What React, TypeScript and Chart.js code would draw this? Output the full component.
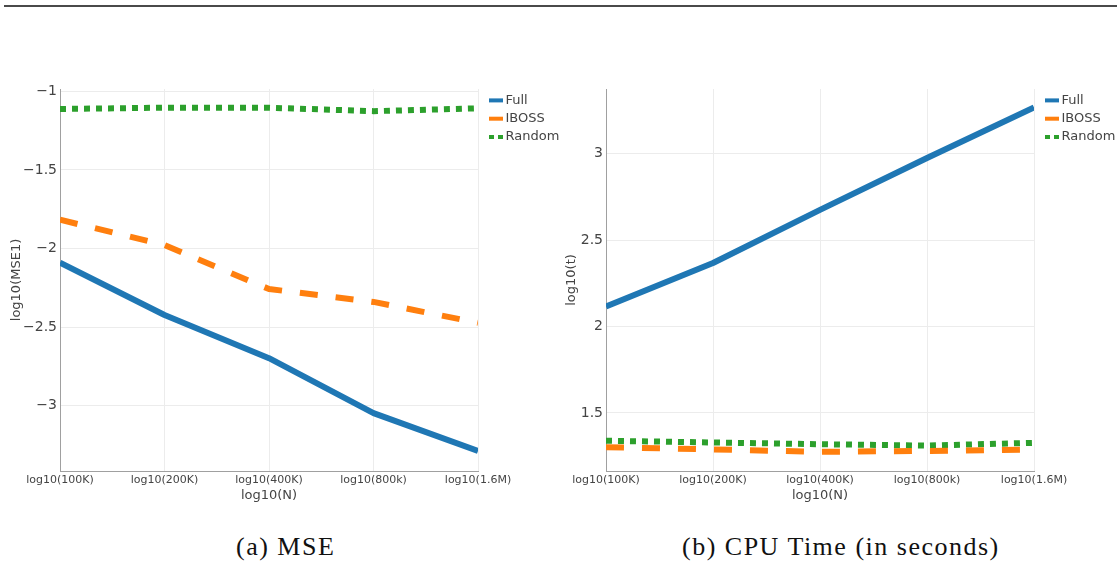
import React, { useEffect, useRef } from 'react';
import { Chart, registerables } from 'chart.js';

Chart.register(...registerables);

// ---------- data ----------
const categories = ['log10(100K)', 'log10(200K)', 'log10(400K)', 'log10(800k)', 'log10(1.6M)'];
const seriesNames = ['Full', 'IBOSS', 'Random'];

const mseFull = [-2.09, -2.423, -2.698, -3.048, -3.289];
const mseIboss = [-1.817, -1.978, -2.258, -2.34, -2.473];
const mseRandom = [-1.112, -1.104, -1.104, -1.126, -1.108];

const timeFull = [2.116, 2.367, 2.675, 2.975, 3.267];
const timeIboss = [1.302, 1.289, 1.275, 1.28, 1.288];
const timeRandom = [1.339, 1.329, 1.319, 1.311, 1.327];

const mseTicks = [-3, -2.5, -2, -1.5, -1];
const timeTicks = [1.5, 2, 2.5, 3];

const colors = ['#1f77b4', '#ff7f0e', '#2ca02c'];
const FONT = 'DejaVu Sans';

const fmt = (v: number) => (v < 0 ? '\u2212' + String(Math.abs(v)) : String(v));

const legendPlugin = {
  id: 'sideLegend',
  afterDraw(chart: any) {
    const { ctx, chartArea } = chart;
    ctx.save();
    chart.data.datasets.forEach((ds: any, i: number) => {
      const y = chartArea.top + 11.4 + i * 18.3;
      const x0 = chartArea.right + 11;
      ctx.beginPath();
      ctx.strokeStyle = ds.borderColor;
      ctx.lineWidth = 4;
      ctx.lineCap = 'butt';
      ctx.setLineDash(i === 2 ? [5, 4] : []);
      ctx.moveTo(x0, y);
      ctx.lineTo(x0 + 14, y);
      ctx.stroke();
      ctx.setLineDash([]);
      ctx.fillStyle = '#444';
      ctx.font = `13px "${FONT}"`;
      ctx.textBaseline = 'middle';
      ctx.textAlign = 'left';
      ctx.fillText(ds.label, chartArea.right + 27.5, y);
    });
    ctx.restore();
  },
};

type Props = {
  width: number;
  height: number;
  series: number[][];
  ticks: number[];
  min: number;
  max: number;
  yTitle: string;
  yWidth: number;
  padRight: number;
  yTitlePad: number;
};

function LineChart(p: Props) {
  const ref = useRef<HTMLCanvasElement>(null);
  useEffect(() => {
    if (!ref.current) return;
    const dashes = [[], [18, 18], [6, 6]];
    const chart = new Chart(ref.current, {
      type: 'line',
      data: {
        labels: categories,
        datasets: p.series.map((d, i) => ({
          label: seriesNames[i],
          data: d,
          borderColor: colors[i],
          backgroundColor: colors[i],
          borderWidth: 6,
          borderDash: dashes[i],
          borderCapStyle: 'butt',
          borderJoinStyle: 'round',
          pointRadius: 0,
          tension: 0,
          fill: false,
          clip: 0,
        })),
      },
      options: {
        animation: false,
        responsive: false,
        devicePixelRatio: 1,
        layout: { padding: { left: 0, top: 19, right: p.padRight, bottom: 0 } },
        plugins: { legend: { display: false }, tooltip: { enabled: false }, title: { display: false } },
        scales: {
          x: {
            type: 'category',
            offset: false,
            afterFit: (s: any) => {
              s.height = p.height - 19 - 382;
            },
            grid: { color: '#ececec', drawTicks: false, lineWidth: 1 },
            border: { color: '#a0a0a0', width: 1 },
            ticks: {
              font: { family: FONT, size: 11 },
              color: '#444',
              padding: 3,
              maxRotation: 0,
              autoSkip: false,
            },
            title: {
              display: true,
              text: 'log10(N)',
              color: '#444',
              font: { family: FONT, size: 13 },
              padding: { top: 0, bottom: 7 },
            },
          },
          y: {
            type: 'linear',
            min: p.min,
            max: p.max,
            afterFit: (s: any) => {
              s.width = p.yWidth;
            },
            afterBuildTicks: (s: any) => {
              s.ticks = p.ticks.map((v) => ({ value: v }));
            },
            grid: { color: '#ececec', drawTicks: false, lineWidth: 1 },
            border: { color: '#a0a0a0', width: 1 },
            ticks: {
              font: { family: FONT, size: 14 },
              color: '#444',
              padding: 3,
              callback: (v: any) => fmt(Number(v)),
            },
            title: {
              display: true,
              text: p.yTitle,
              color: '#444',
              font: { family: FONT, size: 13 },
              padding: { top: p.yTitlePad, bottom: 0 },
            },
          },
        },
      } as any,
      plugins: [legendPlugin],
    });
    return () => chart.destroy();
  }, []);
  return (
    <canvas
      ref={ref}
      width={p.width}
      height={p.height}
      style={{ width: p.width, height: p.height, display: 'block' }}
    />
  );
}

const captionStyle: React.CSSProperties = {
  position: 'absolute',
  fontFamily: '"Liberation Serif", serif',
  fontSize: 26,
  lineHeight: '26px',
  letterSpacing: '1.5px',
  color: '#111',
  whiteSpace: 'nowrap',
};

export default function App() {
  return (
    <div style={{ position: 'absolute', left: 0, top: 0, width: 1117, height: 563, background: '#fff', overflow: 'hidden' }}>
      <div style={{ position: 'absolute', left: 4, top: 5, width: 1113, height: 2, background: '#4a4a4a' }} />
      <div style={{ position: 'absolute', left: 0, top: 70 }}>
        <LineChart
          width={560}
          height={440}
          series={[mseFull, mseIboss, mseRandom]}
          ticks={mseTicks}
          min={-3.416}
          max={-0.985}
          yTitle="log10(MSE1)"
          yWidth={60}
          padRight={82}
          yTitlePad={9}
        />
      </div>
      <div style={{ position: 'absolute', left: 560, top: 70 }}>
        <LineChart
          width={557}
          height={440}
          series={[timeFull, timeIboss, timeRandom]}
          ticks={timeTicks}
          min={1.164}
          max={3.374}
          yTitle="log10(t)"
          yWidth={46}
          padRight={83}
          yTitlePad={4}
        />
      </div>
      <div style={{ ...captionStyle, left: 236, top: 534 }}>(a) MSE</div>
      <div style={{ ...captionStyle, left: 682, top: 534 }}>(b) CPU Time (in seconds)</div>
    </div>
  );
}
